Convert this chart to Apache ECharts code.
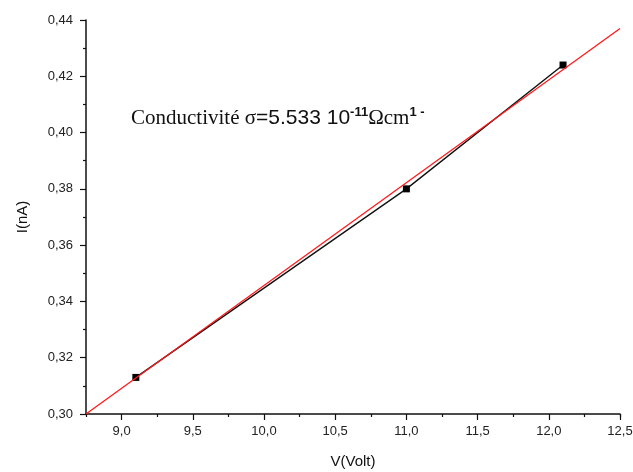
<!DOCTYPE html>
<html>
<head>
<meta charset="utf-8">
<script src="https://cdn.jsdelivr.net/npm/echarts@6/dist/echarts.min.js"></script>
<style>
  html, body { margin: 0; padding: 0; background: #fff; }
  #chart { width: 633px; height: 472px; }
</style>
</head>
<body>
<div id="chart"></div>
<script>
// measured points
const voltage = [9.1, 11.0, 12.1];
const current = [0.313, 0.380, 0.424];
// linear fit (red line), ends of the drawn segment
const fitX = [8.75, 12.5];
const fitY = [0.300, 0.437];

// tick values
const xMajor = [9.0, 9.5, 10.0, 10.5, 11.0, 11.5, 12.0, 12.5];
const yRange = { min: 0.30, max: 0.44, interval: 0.02 };

const chart = echarts.init(document.getElementById("chart"));

const comma = (v, d) => v.toFixed(d).replace(".", ",");
const axisColor = "#111";
const labelFont = { fontFamily: "Liberation Sans", fontSize: 13, color: "#222" };

chart.setOption({
  animation: false,
  grid: { left: 86, right: 13, top: 20, bottom: 58, outerBoundsMode: "none" },
  xAxis: [
    {
      type: "value",
      gridIndex: 0,
      min: 8.75,
      max: 12.5,
      name: "V(Volt)",
      nameLocation: "middle",
      nameGap: 40,
      nameTextStyle: { fontFamily: "Liberation Sans", fontSize: 15, color: "#111" },
      axisLine: { lineStyle: { color: axisColor, width: 1.5 } },
      axisTick: { show: true, length: 6, customValues: xMajor, lineStyle: { color: axisColor, width: 1.2 } },
      axisLabel: {
        margin: 11,
        customValues: xMajor,
        showMaxLabel: true,
        ...labelFont,
        formatter: (v) => comma(v, 1),
      },
      splitLine: { show: false },
    },
    {
      // minor ticks of the x axis: every 0.5 starting from 8.75
      type: "value",
      gridIndex: 0,
      position: "bottom",
      offset: 0,
      min: 8.75,
      max: 12.5,
      interval: 0.5,
      axisLine: { show: false, onZero: false },
      axisTick: { show: true, length: 3, lineStyle: { color: axisColor, width: 1.2 } },
      axisLabel: { show: false },
      splitLine: { show: false },
    },
  ],
  yAxis: {
    type: "value",
    min: yRange.min,
    max: yRange.max,
    interval: yRange.interval,
    name: "I(nA)",
    nameLocation: "middle",
    nameRotate: 90,
    nameGap: 56,
    nameTextStyle: { fontFamily: "Liberation Sans", fontSize: 15, color: "#111" },
    axisLine: { show: true, lineStyle: { color: axisColor, width: 1.5 } },
    axisTick: { show: true, length: 6, lineStyle: { color: axisColor, width: 1.2 } },
    minorTick: { show: true, splitNumber: 2, length: 3, lineStyle: { color: axisColor, width: 1.2 } },
    axisLabel: {
      margin: 13,
      ...labelFont,
      formatter: (v) => comma(v, 2),
    },
    splitLine: { show: false },
  },
  graphic: [
    {
      type: "text",
      left: 131,
      top: 106,
      style: {
        rich: {
          t: { fontFamily: "Liberation Serif", fontSize: 21, fill: "#111", lineHeight: 24 },
          n: { fontFamily: "Liberation Sans", fontSize: 21, fill: "#111", lineHeight: 24 },
          s: { fontFamily: "Liberation Sans", fontSize: 13, fontWeight: "bold", fill: "#111", lineHeight: 24, verticalAlign: "top", padding: [0, 0, 10, 0] },
        },
        text: "{t|Conductivité σ}{n|=5.533 10}{s|-11}{t|Ωcm}{s|1 -}",
      },
    },
  ],
  series: [
    {
      type: "line",
      data: voltage.map((v, i) => [v, current[i]]),
      symbol: "rect",
      symbolSize: 7,
      itemStyle: { color: "#000" },
      lineStyle: { color: "#111", width: 1.4 },
      z: 3,
    },
    {
      type: "line",
      xAxisIndex: 1,
      data: fitX.map((v, i) => [v, fitY[i]]),
      symbol: "none",
      lineStyle: { color: "#ff1a1a", width: 1.3 },
      z: 4,
    },
  ],
});
</script>
</body>
</html>
